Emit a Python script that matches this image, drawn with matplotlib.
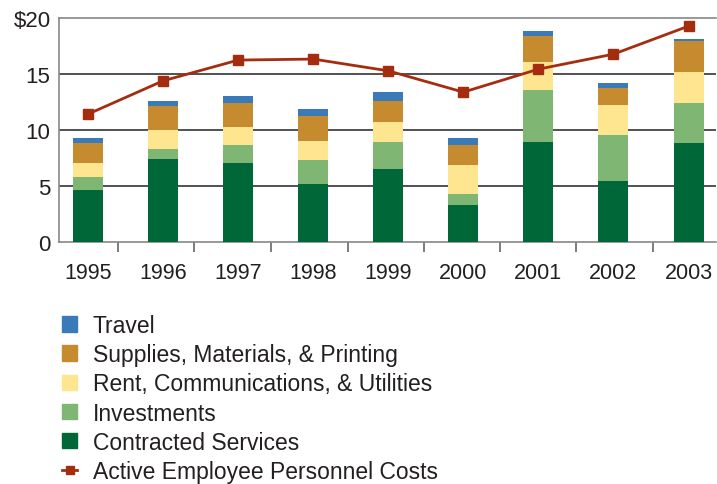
import numpy as np
import matplotlib.pyplot as plt
from matplotlib.lines import Line2D
from matplotlib.patches import Patch

plt.rcParams['font.family'] = ['Liberation Sans', 'DejaVu Sans']

years = ['1995', '1996', '1997', '1998', '1999', '2000', '2001', '2002', '2003']
contracted = [4.67, 7.44, 7.08, 5.21, 6.54, 3.33, 8.95, 5.47, 8.87]
investments = [1.16, 0.89, 1.61, 2.14, 2.41, 0.98, 4.65, 4.11, 3.57]
rent = [1.25, 1.70, 1.61, 1.70, 1.79, 2.59, 2.50, 2.68, 2.76]
supplies = [1.79, 2.14, 2.14, 2.23, 1.88, 1.79, 2.32, 1.52, 2.77]
travel = [0.44, 0.45, 0.62, 0.62, 0.80, 0.62, 0.45, 0.44, 0.18]
personnel = [11.46, 14.43, 16.28, 16.37, 15.32, 13.42, 15.47, 16.81, 19.31]

labels = ['Contracted Services', 'Investments', 'Rent, Communications, & Utilities',
          'Supplies, Materials, & Printing', 'Travel']
colors = ['#006838', '#80b673', '#fee691', '#c68a2f', '#3a7ab8']
line_color = '#a52d0f'
txt = '#231f20'

fig = plt.figure(figsize=(7.17, 4.85), dpi=100)
ax = fig.add_axes([0.082, 0.498, 0.916, 0.462])

x = np.arange(len(years))
bottom = np.zeros(len(years))
for vals, c in zip([contracted, investments, rent, supplies, travel], colors):
    ax.bar(x, vals, 0.4, bottom=bottom, color=c, zorder=3)
    bottom += np.array(vals)

ax.plot(x, personnel, color=line_color, lw=2, marker='s', ms=7, zorder=4)

ax.set_ylim(0, 20)
ax.set_xlim(-0.39, 8.36)
ax.set_yticks([0, 5, 10, 15, 20])
ax.set_yticklabels(['0', '5', '10', '15', '$20'])
for v in [5, 10, 15]:
    ax.axhline(v, color='#333333', lw=1.2, zorder=1)

ax.set_xticks(x)
ax.set_xticklabels(years)
ax.set_xticks([0.395, 1.415, 2.437, 3.458, 4.47, 5.49, 6.507, 7.527], minor=True)
ax.tick_params(axis='x', which='major', length=0, pad=14, labelsize=15.5, colors=txt)
ax.tick_params(axis='x', which='minor', length=7, width=1.2, color='#666666')
ax.tick_params(axis='y', length=0, pad=6, labelsize=16, colors=txt)

for s in ['top', 'bottom', 'left']:
    ax.spines[s].set_color('#888888')
    ax.spines[s].set_linewidth(1.2)
ax.spines['right'].set_visible(False)

handles = [Patch(color=colors[4]), Patch(color=colors[3]), Patch(color=colors[2]),
           Patch(color=colors[1]), Patch(color=colors[0]),
           Line2D([], [], color=line_color, lw=2, marker='s', ms=6)]
names = ['Travel', 'Supplies, Materials, & Printing', 'Rent, Communications, & Utilities',
         'Investments', 'Contracted Services', 'Active Employee Personnel Costs']
leg = fig.legend(handles, names, loc='upper left', bbox_to_anchor=(0.071, 0.374),
                 frameon=False, fontsize=16.5, handlelength=0.66, handleheight=0.66,
                 handletextpad=0.66, labelspacing=0.27, borderpad=0)
for t in leg.get_texts():
    t.set_color(txt)

fig.savefig('out.png', dpi=100)
